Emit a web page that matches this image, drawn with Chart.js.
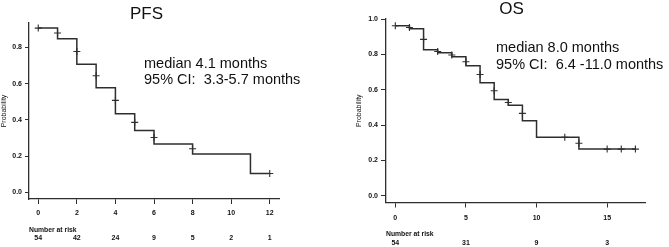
<!DOCTYPE html>
<html>
<head>
<meta charset="utf-8">
<script src="https://cdn.jsdelivr.net/npm/chart.js@4"></script>
<style>
  html, body { margin: 0; padding: 0; background: #fff; }
  #wrap { position: relative; width: 669px; height: 247px; }
  .box { position: absolute; top: 0; height: 247px; }
</style>
</head>
<body>
<div id="wrap">
  <div class="box" style="left:0;width:335px"><canvas id="stage1"></canvas></div>
  <div class="box" style="left:335px;width:334px"><canvas id="stage2"></canvas></div>
</div>
<script>
// PFS - Kaplan-Meier steps (time in months, survival probability)
var pfsTimes = [0, 1, 2, 3, 4, 5, 6, 8, 11, 12];
var pfsSurv  = [0.907, 0.848, 0.708, 0.578, 0.434, 0.342, 0.267, 0.212, 0.105, 0.105];
// PFS censor marks
var pfsCensT = [0, 1, 2, 3, 4, 5, 6, 8, 12];
var pfsCensY = [0.907, 0.880, 0.778, 0.644, 0.508, 0.387, 0.303, 0.241, 0.105];
var pfsXTicks = [0, 2, 4, 6, 8, 10, 12];
var pfsYTicks = [0, 0.2, 0.4, 0.6, 0.8];
var pfsRisk   = [54, 42, 24, 9, 5, 2, 1];

// OS
var osTimes = [0, 1, 2, 3, 4, 5, 6, 7, 8, 9, 10, 13, 17];
var osSurv  = [0.962, 0.945, 0.826, 0.809, 0.787, 0.735, 0.640, 0.544, 0.512, 0.424, 0.331, 0.264, 0.264];
var osCensT = [0, 1, 2, 3, 4, 5, 6, 7, 8, 9, 12, 13, 15, 16, 17];
var osCensY = [0.962, 0.952, 0.885, 0.816, 0.796, 0.758, 0.686, 0.594, 0.528, 0.466, 0.331, 0.297, 0.264, 0.264, 0.264];
var osXTicks = [0, 5, 10, 15];
var osYTicks = [0, 0.2, 0.4, 0.6, 0.8, 1.0];
var osRisk   = [54, 31, 9, 3];

var INK = '#111111';
var LINE = '#2e2e2e';

function toPoints(xs, ys) {
  var out = [];
  for (var i = 0; i < xs.length; i++) out.push({x: xs[i], y: ys[i]});
  return out;
}

// draws the title, the median text and the number-at-risk row
var kmText = {
  id: 'kmText',
  afterDraw: function(chart, args, o) {
    var ctx = chart.ctx;
    var xs = chart.scales.x;
    ctx.save();
    ctx.fillStyle = INK;
    ctx.textBaseline = 'middle';
    ctx.textAlign = 'center';
    ctx.font = '17px "Liberation Sans", Arial, sans-serif';
    ctx.fillText(o.title, o.titleX, o.titleY);

    ctx.textAlign = 'left';
    ctx.textBaseline = 'alphabetic';
    ctx.font = '14.5px "Liberation Sans", Arial, sans-serif';
    for (var i = 0; i < o.lines.length; i++) {
      ctx.fillText(o.lines[i], o.textX, o.textY + i * o.lineGap);
    }

    ctx.textBaseline = 'middle';
    ctx.font = 'bold 6.8px "Liberation Sans", Arial, sans-serif';
    ctx.fillText('Number at risk', chart.chartArea.left, o.riskY);
    ctx.font = 'bold 7px "Liberation Sans", Arial, sans-serif';
    ctx.textAlign = 'center';
    for (var j = 0; j < o.riskTicks.length; j++) {
      ctx.fillText(String(o.risk[j]), xs.getPixelForValue(o.riskTicks[j]), o.riskY + 8.5);
    }
    ctx.restore();
  }
};

function drawKM(canv, cfg) {
  return new Chart(canv, {
    type: 'scatter',
    data: {
      datasets: [{
        data: toPoints(cfg.times, cfg.surv),
        showLine: true,
        stepped: 'before',
        borderColor: LINE,
        borderWidth: 1.5,
        pointRadius: 0
      }, {
        data: toPoints(cfg.censT, cfg.censY),
        showLine: false,
        pointStyle: 'cross',
        pointRadius: 3.5,
        borderColor: LINE,
        borderWidth: 1.1
      }]
    },
    options: {
      responsive: true,
      maintainAspectRatio: false,
      animation: false,
      layout: { padding: cfg.padding },
      plugins: {
        legend: { display: false },
        tooltip: { enabled: false },
        kmText: cfg.text
      },
      scales: {
        x: {
          type: 'linear',
          min: cfg.xMin, max: cfg.xMax,
          afterBuildTicks: function(s) { s.ticks = cfg.xTicks.map(function(v){ return {value: v}; }); },
          afterFit: function(s) { s.height = cfg.xAxisH; },
          grid: { drawOnChartArea: false, drawTicks: true, tickLength: 5, tickColor: LINE },
          border: { display: true, color: LINE, width: 1.3 },
          ticks: {
            padding: cfg.xPad, color: INK, maxRotation: 0, autoSkip: false,
            font: { size: 7, weight: 'bold', family: '"Liberation Sans", Arial, sans-serif' },
            callback: function(v) { return String(v); }
          }
        },
        y: {
          type: 'linear',
          min: cfg.yMin, max: cfg.yMax,
          afterBuildTicks: function(s) { s.ticks = cfg.yTicks.map(function(v){ return {value: v}; }); },
          afterFit: function(s) { s.width = cfg.yAxisW; },
          grid: { drawOnChartArea: false, drawTicks: true, tickLength: cfg.yTickLen, tickColor: LINE },
          border: { display: true, color: LINE, width: 1.3 },
          title: {
            display: true, text: 'Probability', color: INK, padding: 0,
            font: { size: 7, family: '"Liberation Sans", Arial, sans-serif' }
          },
          ticks: {
            padding: 3, color: INK, autoSkip: false,
            font: { size: 7, weight: 'bold', family: '"Liberation Sans", Arial, sans-serif' },
            callback: function(v) { return v.toFixed(1); }
          }
        }
      }
    },
    plugins: [kmText]
  });
}

drawKM(document.getElementById('stage1'), {
  times: pfsTimes, surv: pfsSurv, censT: pfsCensT, censY: pfsCensY,
  xTicks: pfsXTicks, yTicks: pfsYTicks,
  xMin: -0.48, xMax: 12.48, yMin: -0.036, yMax: 0.935,
  padding: { left: 0, top: 23, right: 56, bottom: 0 },
  yAxisW: 29, xAxisH: 48, yTickLen: 4, xPad: 5,
  text: {
    title: 'PFS', titleX: 146.5, titleY: 14.5,
    lines: ['median 4.1 months', '95% CI:  3.3-5.7 months'],
    textX: 144, textY: 67.5, lineGap: 16.5,
    riskTicks: pfsXTicks, risk: pfsRisk, riskY: 230
  }
});

drawKM(document.getElementById('stage2'), {
  times: osTimes, surv: osSurv, censT: osCensT, censY: osCensY,
  xTicks: osXTicks, yTicks: osYTicks,
  xMin: -0.66, xMax: 17.68, yMin: -0.038, yMax: 1.0,
  padding: { left: 20, top: 19, right: 24, bottom: 0 },
  yAxisW: 31, xAxisH: 44.5, yTickLen: 5, xPad: 6,
  text: {
    title: 'OS', titleX: 176.5, titleY: 9.5,
    lines: ['median 8.0 months', '95% CI:  6.4 -11.0 months'],
    textX: 161, textY: 52.3, lineGap: 16.4,
    riskTicks: osXTicks, risk: osRisk, riskY: 234.3
  }
});
</script>
</body>
</html>
